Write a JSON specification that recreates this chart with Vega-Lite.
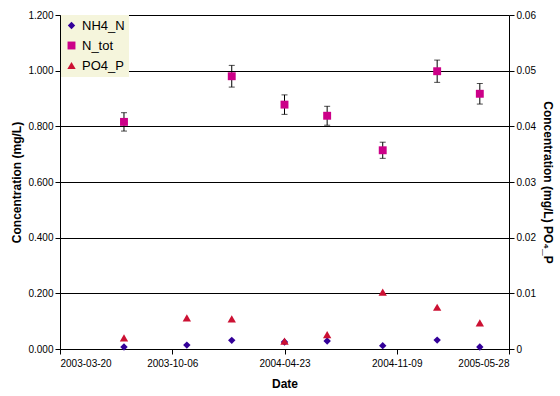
{
  "$schema": "https://vega.github.io/schema/vega-lite/v6.json",
  "width": 449,
  "height": 334,
  "autosize": "none",
  "padding": {"left": 60, "top": 15, "right": 51, "bottom": 47},
  "background": "white",
  "config": {
    "view": {"stroke": null},
    "font": "Liberation Sans",
    "axis": {
      "labelFont": "Liberation Sans",
      "labelFontSize": 10,
      "labelColor": "#000",
      "titleFont": "Liberation Sans",
      "titleFontSize": 12,
      "titleFontWeight": "bold",
      "titleColor": "#000",
      "domainColor": "#000",
      "tickColor": "#000",
      "tickSize": 5,
      "gridColor": "#000",
      "gridOpacity": 1
    }
  },
  "data": {
    "values": [
      {"date": "2003-07-12", "series": "NH4_N", "value": 0.007},
      {"date": "2003-11-01", "series": "NH4_N", "value": 0.014},
      {"date": "2004-01-20", "series": "NH4_N", "value": 0.031},
      {"date": "2004-04-23", "series": "NH4_N", "value": 0.025},
      {"date": "2004-07-08", "series": "NH4_N", "value": 0.029},
      {"date": "2004-10-15", "series": "NH4_N", "value": 0.012},
      {"date": "2005-01-20", "series": "NH4_N", "value": 0.032},
      {"date": "2005-04-06", "series": "NH4_N", "value": 0.007},
      {"date": "2003-07-12", "series": "N_tot", "value": 0.816, "lo": 0.783, "hi": 0.849},
      {"date": "2004-01-20", "series": "N_tot", "value": 0.980, "lo": 0.941, "hi": 1.019},
      {"date": "2004-04-23", "series": "N_tot", "value": 0.878, "lo": 0.843, "hi": 0.913},
      {"date": "2004-07-08", "series": "N_tot", "value": 0.838, "lo": 0.804, "hi": 0.872},
      {"date": "2004-10-15", "series": "N_tot", "value": 0.714, "lo": 0.685, "hi": 0.743},
      {"date": "2005-01-20", "series": "N_tot", "value": 0.998, "lo": 0.958, "hi": 1.038},
      {"date": "2005-04-06", "series": "N_tot", "value": 0.917, "lo": 0.880, "hi": 0.954},
      {"date": "2003-07-12", "series": "PO4_P", "value": 0.0020},
      {"date": "2003-11-01", "series": "PO4_P", "value": 0.0056},
      {"date": "2004-01-20", "series": "PO4_P", "value": 0.0054},
      {"date": "2004-04-23", "series": "PO4_P", "value": 0.0014},
      {"date": "2004-07-08", "series": "PO4_P", "value": 0.0026},
      {"date": "2004-10-15", "series": "PO4_P", "value": 0.0102},
      {"date": "2005-01-20", "series": "PO4_P", "value": 0.0075},
      {"date": "2005-04-06", "series": "PO4_P", "value": 0.0047}
    ]
  },
  "encoding": {
    "x": {
      "field": "date",
      "type": "temporal",
      "scale": {
        "type": "utc",
        "domain": [
          {"year": 2003, "month": 3, "date": 20, "utc": true},
          {"year": 2005, "month": 5, "date": 28, "utc": true}
        ]
      },
      "axis": {
        "title": "Date",
        "titlePadding": 10,
        "format": "%Y-%m-%d",
        "labelPadding": 4,
        "labelOverlap": false,
        "grid": false,
        "values": [
          {"year": 2003, "month": 3, "date": 20, "utc": true},
          {"year": 2003, "month": 10, "date": 6, "utc": true},
          {"year": 2004, "month": 4, "date": 23, "utc": true},
          {"year": 2004, "month": 11, "date": 9, "utc": true},
          {"year": 2005, "month": 5, "date": 28, "utc": true}
        ]
      }
    }
  },
  "layer": [
    {
      "transform": [{"filter": "datum.series === 'N_tot'"}],
      "mark": {"type": "rule", "color": "#000", "strokeWidth": 1},
      "encoding": {
        "y": {"field": "lo", "type": "quantitative", "scale": {"domain": [0, 1.2]}, "axis": null},
        "y2": {"field": "hi"}
      }
    },
    {
      "transform": [{"filter": "datum.series === 'N_tot'"}, {"fold": ["lo", "hi"], "as": ["end", "cap"]}],
      "mark": {"type": "tick", "color": "#000", "size": 6, "thickness": 1, "orient": "horizontal"},
      "encoding": {
        "y": {"field": "cap", "type": "quantitative", "scale": {"domain": [0, 1.2]}, "axis": null}
      }
    },
    {
      "transform": [{"filter": "datum.series !== 'PO4_P'"}],
      "mark": {"type": "point", "filled": true, "opacity": 1},
      "encoding": {
        "y": {
          "field": "value",
          "type": "quantitative",
          "scale": {"domain": [0, 1.2]},
          "axis": {
            "title": "Concentration (mg/L)",
            "orient": "left",
            "values": [0, 0.2, 0.4, 0.6, 0.8, 1.0, 1.2],
            "format": ".3f",
            "grid": true,
            "titlePadding": 4
          }
        },
        "color": {
          "field": "series",
          "type": "nominal",
          "scale": {"domain": ["NH4_N", "N_tot", "PO4_P"], "range": ["#330099", "#CC0088", "#CC1133"]},
          "legend": {
            "title": null,
            "orient": "none",
            "legendX": 1,
            "legendY": 0,
            "labelFont": "Liberation Sans",
            "labelFontSize": 13,
            "labelColor": "#000",
            "symbolSize": 45,
            "rowPadding": 6,
            "padding": 4,
            "labelOffset": 4,
            "fillColor": "#F5F5DC"
          }
        },
        "shape": {
          "field": "series",
          "type": "nominal",
          "scale": {"domain": ["NH4_N", "N_tot", "PO4_P"], "range": ["diamond", "square", "triangle-up"]}
        },
        "size": {
          "field": "series",
          "type": "nominal",
          "scale": {"domain": ["NH4_N", "N_tot", "PO4_P"], "range": [55, 70, 65]},
          "legend": null
        }
      }
    },
    {
      "transform": [{"filter": "datum.series === 'PO4_P'"}],
      "mark": {"type": "point", "filled": true, "opacity": 1},
      "encoding": {
        "y": {
          "field": "value",
          "type": "quantitative",
          "scale": {"domain": [0, 0.06]},
          "axis": {
            "title": "Concentration (mg/L) PO₄_P",
            "orient": "right",
            "titleAngle": 90,
            "titlePadding": 5,
            "values": [0, 0.01, 0.02, 0.03, 0.04, 0.05, 0.06],
            "format": "~g",
            "grid": false
          }
        },
        "color": {
          "field": "series",
          "type": "nominal",
          "scale": {"domain": ["NH4_N", "N_tot", "PO4_P"], "range": ["#330099", "#CC0088", "#CC1133"]}
        },
        "shape": {
          "field": "series",
          "type": "nominal",
          "scale": {"domain": ["NH4_N", "N_tot", "PO4_P"], "range": ["diamond", "square", "triangle-up"]}
        },
        "size": {
          "field": "series",
          "type": "nominal",
          "scale": {"domain": ["NH4_N", "N_tot", "PO4_P"], "range": [55, 70, 65]},
          "legend": null
        }
      }
    }
  ],
  "resolve": {"scale": {"y": "independent"}}
}
